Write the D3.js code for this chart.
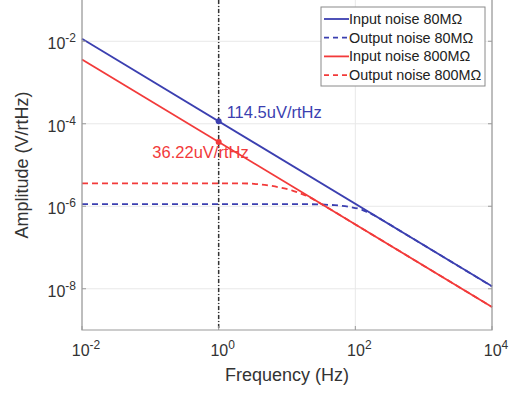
<!DOCTYPE html>
<html>
<head>
<meta charset="utf-8">
<script src="https://cdn.jsdelivr.net/npm/d3@7"></script>
<style>
    body { margin: 0; background: white; }
    text { font-family: "Liberation Sans", Arial, sans-serif; }
</style>
</head>
<body>
<svg id="plotarea"></svg>
<script>
// data (frequency in Hz, amplitude in V/rtHz)
var xTicks = [1e-2, 1e0, 1e2, 1e4];
var yTicks = [1e-8, 1e-6, 1e-4, 1e-2];

var inputFreq80 = [1e-2, 1e4];
var inputAmp80 = [1.145e-2, 1.145e-8];
var outputFreq80 = [1e-2, 20, 50, 84, 120, 150, 200, 250, 500, 1000, 1e4];
var outputAmp80 = [1.12e-6, 1.12e-6, 1.06e-6, 9.6e-7, 8.4e-7, 7.2e-7, 5.7e-7, 4.6e-7, 2.29e-7, 1.145e-7, 1.14e-8];

var inputFreq800 = [1e-2, 1e4];
var inputAmp800 = [3.622e-3, 3.622e-9];
var outputFreq800 = [1e-2, 2, 4, 6, 8.75, 12, 15.6, 20, 30, 100, 1000, 1e4];
var outputAmp800 = [3.6e-6, 3.6e-6, 3.4e-6, 3.1e-6, 2.75e-6, 2.4e-6, 2.05e-6, 1.75e-6, 1.2e-6, 3.62e-7, 3.62e-8, 3.62e-9];

var cursorFreq = 1;
var cursorAmps = [1.145e-4, 3.622e-5];
var cursorLabels = ["114.5uV/rtHz", "36.22uV/rtHz"];

var seriesNames = ["Input noise 80M\u03A9", "Output noise 80M\u03A9",
                   "Input noise 800M\u03A9", "Output noise 800M\u03A9"];

var blue = "#3b3fb0";
var red = "#f23a3a";

var width = 515, height = 393;
var plot = {left: 82, right: 492, top: 0, bottom: 330};

var svg = d3.select("#plotarea")
    .attr("width", width)
    .attr("height", height);

var x = d3.scaleLog().domain([1e-2, 1e4]).range([plot.left, plot.right]);
var y = d3.scaleLog().domain([1e-9, 1e-1]).range([plot.bottom, plot.top]);

function zip(fs, vs) {
    return fs.map(function (f, i) { return [f, vs[i]]; });
}

var series = [
    {pts: zip(inputFreq80, inputAmp80), color: blue, dash: null},
    {pts: zip(outputFreq80, outputAmp80), color: blue, dash: "6,4"},
    {pts: zip(inputFreq800, inputAmp800), color: red, dash: null},
    {pts: zip(outputFreq800, outputAmp800), color: red, dash: "6,4"}
];

// grid lines
svg.append("g")
    .selectAll("line")
    .data(yTicks)
    .enter()
    .append("line")
    .attr("x1", plot.left).attr("x2", plot.right)
    .attr("y1", function (d) { return y(d); })
    .attr("y2", function (d) { return y(d); })
    .attr("stroke", "#e8e8e8");

svg.append("g")
    .selectAll("line")
    .data(xTicks)
    .enter()
    .append("line")
    .attr("x1", function (d) { return x(d); })
    .attr("x2", function (d) { return x(d); })
    .attr("y1", plot.top).attr("y2", plot.bottom)
    .attr("stroke", "#e8e8e8");

// curves
var line = d3.line()
    .x(function (d) { return x(d[0]); })
    .y(function (d) { return y(d[1]); })
    .curve(d3.curveMonotoneX);

svg.append("g")
    .selectAll("path")
    .data(series)
    .enter()
    .append("path")
    .attr("d", function (s) { return line(s.pts); })
    .attr("fill", "none")
    .attr("stroke", function (s) { return s.color; })
    .attr("stroke-width", 1.8)
    .attr("stroke-dasharray", function (s) { return s.dash; });

// dash-dot cursor line at 1 Hz
svg.append("line")
    .attr("x1", x(cursorFreq)).attr("x2", x(cursorFreq))
    .attr("y1", plot.top).attr("y2", plot.bottom)
    .attr("stroke", "#333")
    .attr("stroke-width", 1.5)
    .attr("stroke-dasharray", "4,2,1,2");

// axes box (no top edge visible in the picture)
var axisColor = "#9a9a9a";
svg.append("path")
    .attr("d", "M" + plot.left + "," + plot.top + "V" + plot.bottom
        + "H" + plot.right + "V" + plot.top)
    .attr("fill", "none")
    .attr("stroke", axisColor)
    .attr("stroke-width", 1.2);

// inward tick marks
var ticks = svg.append("g").attr("stroke", axisColor);
yTicks.forEach(function (t) {
    ticks.append("line").attr("x1", plot.left).attr("x2", plot.left + 4)
        .attr("y1", y(t)).attr("y2", y(t));
    ticks.append("line").attr("x1", plot.right).attr("x2", plot.right - 4)
        .attr("y1", y(t)).attr("y2", y(t));
});
xTicks.forEach(function (t) {
    ticks.append("line").attr("x1", x(t)).attr("x2", x(t))
        .attr("y1", plot.bottom).attr("y2", plot.bottom - 4);
});

// tick labels as 10^n
function powerLabel(sel, v) {
    var e = Math.round(Math.log10(v));
    sel.append("tspan").text("10");
    sel.append("tspan").attr("dy", -7).attr("font-size", 12).text(e);
}

svg.append("g")
    .selectAll("text")
    .data(yTicks)
    .enter()
    .append("text")
    .attr("x", plot.left - 6)
    .attr("y", function (d) { return y(d) + 8; })
    .attr("text-anchor", "end")
    .attr("font-size", 16)
    .attr("fill", "#333")
    .each(function (d) { powerLabel(d3.select(this), d); });

svg.append("g")
    .selectAll("text")
    .data(xTicks)
    .enter()
    .append("text")
    .attr("x", function (d) { return x(d) + 4; })
    .attr("y", 356)
    .attr("text-anchor", "middle")
    .attr("font-size", 16)
    .attr("fill", "#333")
    .each(function (d) { powerLabel(d3.select(this), d); });

// axis titles
svg.append("text")
    .attr("x", (plot.left + plot.right) / 2)
    .attr("y", 381)
    .attr("text-anchor", "middle")
    .attr("font-size", 18)
    .attr("fill", "#333")
    .text("Frequency (Hz)");

svg.append("text")
    .attr("transform", "translate(28," + (plot.top + plot.bottom) / 2 + ") rotate(-90)")
    .attr("text-anchor", "middle")
    .attr("font-size", 18)
    .attr("fill", "#333")
    .text("Amplitude (V/rtHz)");

// data tips
var tipColors = [blue, red];
svg.append("g")
    .selectAll("circle")
    .data(cursorAmps)
    .enter()
    .append("circle")
    .attr("cx", x(cursorFreq))
    .attr("cy", function (d) { return y(d); })
    .attr("r", 3)
    .attr("fill", function (d, i) { return tipColors[i]; });

svg.append("text")
    .attr("x", x(cursorFreq) + 8)
    .attr("y", y(cursorAmps[0]) - 3)
    .attr("font-size", 16.5)
    .attr("fill", blue)
    .text(cursorLabels[0]);

svg.append("text")
    .attr("x", x(cursorFreq) + 30)
    .attr("y", y(cursorAmps[1]) + 16)
    .attr("text-anchor", "end")
    .attr("font-size", 16.5)
    .attr("fill", red)
    .text(cursorLabels[1]);

// legend
var legend = svg.append("g").attr("transform", "translate(321,7)");
legend.append("rect")
    .attr("width", 164).attr("height", 79)
    .attr("fill", "white")
    .attr("stroke", "#8a8a8a");

var item = legend.selectAll(".item")
    .data(series)
    .enter()
    .append("g")
    .attr("class", "item")
    .attr("transform", function (d, i) { return "translate(0," + (12 + i * 18.7) + ")"; });

item.append("line")
    .attr("x1", 3).attr("x2", 28)
    .attr("stroke", function (s) { return s.color; })
    .attr("stroke-width", 1.8)
    .attr("stroke-dasharray", function (s) { return s.dash ? "5,4" : null; });

item.append("text")
    .attr("x", 28)
    .attr("y", 5)
    .attr("font-size", 14.4)
    .attr("fill", "#222")
    .text(function (d, i) { return seriesNames[i]; });
</script>
</body>
</html>
